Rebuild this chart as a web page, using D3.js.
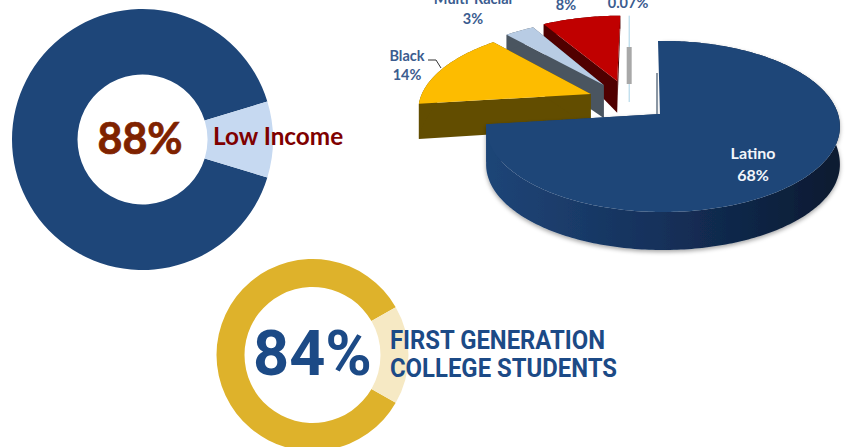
<!DOCTYPE html>
<html><head><meta charset="utf-8">
<script src="https://cdn.jsdelivr.net/npm/d3@7"></script>
<style>html,body{margin:0;padding:0;background:#fff;overflow:hidden}svg{display:block}text{font-family:Lato,sans-serif}</style>
</head><body><svg id="c" width="846" height="447"></svg>
<script>
// Shares as drawn in the picture for the two rings
const incomeShares = [90.6, 9.4];
const incomeColors = ["#1e4679", "#c6d9f1"];
const firstGenShares = [83.4, 16.6];
const firstGenColors = ["#deb22b", "#f6e9c4"];
// Ethnicity pie, in clockwise order from 12 o'clock
const groups = ["Latino", "Black", "Multi-Racial", "White", "Other"];
const groupValues = [68, 14, 3, 8, 0.07];
const groupTop = ["#1e4678", "#fdbc00", "#b8cce4", "#c00000", "#a9d3e6"];
const groupWall = ["url(#latinoWall)", "#624d00", "#4a5560", "#500000", "#a9d3e6"];
const groupOffsetX = [0, -0.428, -0.357, -0.29, -0.205];
const groupOffsetY = [0, -0.2476, -0.365, -0.418, -0.418];
const groupTipShift = [-3, 0, 0, 2, 0];

const svg = d3.select("#c");
const defs = svg.append("defs");
const grad = defs.append("linearGradient").attr("id", "latinoWall")
  .attr("gradientUnits", "userSpaceOnUse").attr("x1", 487).attr("x2", 840).attr("y1", 0).attr("y2", 0);
[[0, "#1f4577"], [0.5, "#14305a"], [1, "#0a1a30"]].forEach(s => grad.append("stop").attr("offset", s[0]).attr("stop-color", s[1]));
const shadow = defs.append("filter").attr("id", "soft").attr("x", "-5%").attr("y", "-5%").attr("width", "110%").attr("height", "115%");
shadow.append("feDropShadow").attr("dx", 0).attr("dy", 2).attr("stdDeviation", 2).attr("flood-color", "#000").attr("flood-opacity", 0.35);

function ring(shares, colors, cx, cy, inner, outer) {
  const half = shares[1] / 100 * Math.PI;
  const pie = d3.pie().sort(null).startAngle(Math.PI / 2 + half).endAngle(Math.PI * 2.5 + half);
  const arc = d3.arc().innerRadius(inner).outerRadius(outer);
  svg.append("g").attr("transform", `translate(${cx},${cy})`).selectAll("path").data(pie(shares)).join("path")
    .attr("d", arc).attr("fill", (d, i) => colors[i]);
}
ring(incomeShares, incomeColors, 142.5, 139.5, 65, 130.5);
ring(firstGenShares, firstGenColors, 312.5, 355, 68, 96);

// Perspective projection of the tilted pie
const P = { cx: 663, cy: 114, R: 175, Rk: 83.7, p: 0.146 };
const project = (X, Y) => {
  const w = 1 - P.p * Y;
  return [P.cx + P.R * X / w, P.cy + P.Rk * Y / w];
};
const depth = d3.scaleLinear().domain([24, 85, 125, 212]).range([13, 33, 38, 38]).clamp(true);
const slices = d3.pie().sort(null)(groupValues);
const line = d3.line();
const lower = p => [p[0], p[1] + depth(p[1])];

function rimPoints(s, i) {
  const ox = groupOffsetX[i], oy = groupOffsetY[i];
  const angles = d3.range(s.startAngle, s.endAngle, Math.PI / 180).concat([s.endAngle]);
  return angles.map(a => project(ox + Math.sin(a), oy - Math.cos(a)));
}
[4, 3, 2, 1, 0].forEach(i => {
  const rim = rimPoints(slices[i], i);
  const t = project(groupOffsetX[i], groupOffsetY[i]);
  const tip = [t[0] + groupTipShift[i], t[1]];
  const g = svg.append("g");
  if (i === 4) {
    g.append("line").attr("x1", tip[0]).attr("x2", tip[0]).attr("y1", rim[0][1]).attr("y2", tip[1] + 21)
      .attr("stroke", groupTop[i]).attr("stroke-width", 1);
    g.append("rect").attr("x", tip[0] - 2.5).attr("y", 47).attr("width", 5).attr("height", 37).attr("fill", "#a8a8a8");
    return;
  }
  const wall = g.append("g");
  if (i === 0) wall.attr("filter", "url(#soft)");
  const band = rim.concat(rim.map(lower).reverse());
  const edges = [[tip, rim[0]], [rim[rim.length - 1], tip]];
  edges.forEach(([a, b]) => {
    wall.append("path").attr("d", line([a, b, lower(b), lower(a)]) + "Z").attr("fill", groupWall[i]);
  });
  wall.append("path").attr("d", line(band) + "Z").attr("fill", groupWall[i]);
  // The Latino slice's upright edge leans slightly left of its hub
  const corner = i === 0 ? [[tip[0] - 2, rim[0][1]]] : [];
  g.append("path").attr("d", line([tip].concat(corner, rim)) + "Z").attr("fill", groupTop[i]);
});
// thin grey sliver beside the Latino slice's upright edge
svg.append("rect").attr("x", 656).attr("y", 73).attr("width", 2).attr("height", 41).attr("fill", "#8a96a3");

// Pie labels
const labelColor = "#3b5c8f";
const label = (t, x, y, fill, size) => svg.append("text").attr("x", x).attr("y", y).attr("text-anchor", "middle")
  .attr("font-size", size || 14.5).attr("font-weight", 700).attr("fill", fill || labelColor).text(t);
label("Multi-Racial", 473, 4);
label("3%", 473, 24);
label("8%", 566, 10);
label("0.07%", 628, 8);
label("Black", 407, 61);
label("14%", 407, 80);
label("Latino", 753, 159, "#f2f5fa", 16);
label("68%", 753, 181, "#f2f5fa", 16);
svg.append("path").attr("d", line([[428, 60], [436, 60], [441, 68]])).attr("fill", "none").attr("stroke", "#333").attr("stroke-width", 1);

// Ring captions
svg.append("text").attr("x", 140).attr("y", 154).attr("text-anchor", "middle").attr("font-size", 43).attr("font-weight", 700)
  .attr("stroke", "#7f2200").attr("stroke-width", 0.7).attr("fill", "#7f2200").text("88%");
svg.append("text").attr("x", 213).attr("y", 145).attr("font-size", 24.3).attr("font-weight", 700)
  .attr("fill", "#7f0000").text("Low Income");
svg.append("text").attr("x", 312.5).attr("y", 375).attr("text-anchor", "middle").attr("font-size", 63).attr("font-weight", 700)
  .style("font-family", "Roboto").attr("fill", "#1c4a86").text("84%");
const caption = (t, y, w) => svg.append("text").attr("x", 390).attr("y", y).attr("font-size", 26).attr("font-weight", 700)
  .style("font-family", "Roboto").attr("fill", "#1c4a86").attr("textLength", w).attr("lengthAdjust", "spacingAndGlyphs").text(t);
caption("FIRST GENERATION", 349, 215);
caption("COLLEGE STUDENTS", 377, 227);
</script></body></html>
